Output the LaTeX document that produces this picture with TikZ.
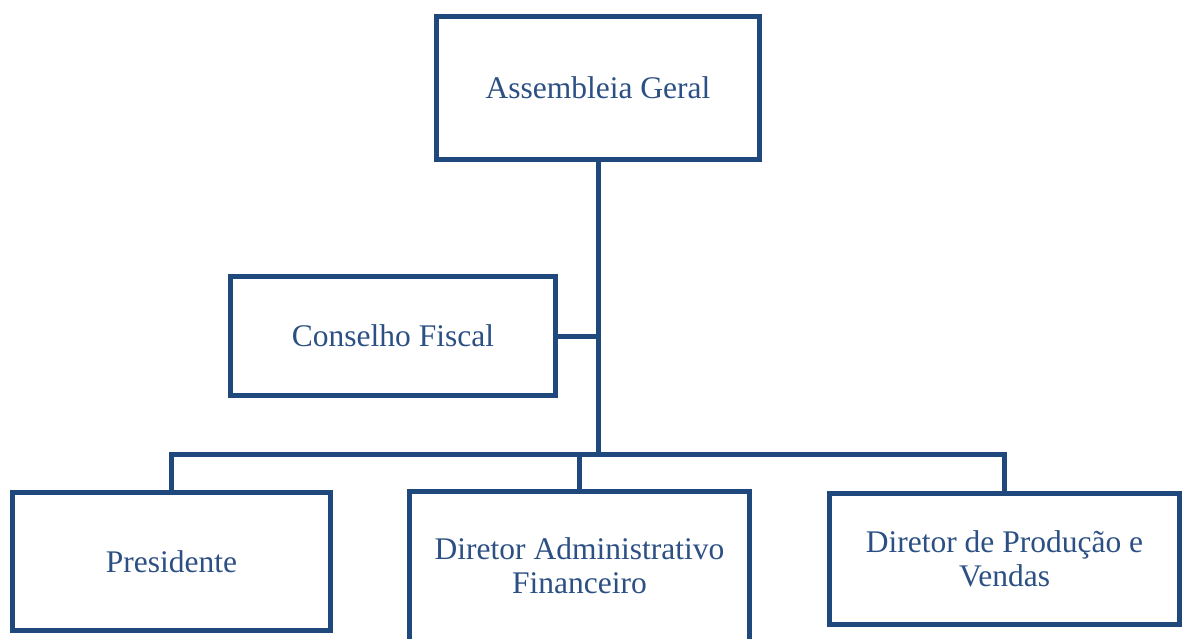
\documentclass[tikz,border=0pt]{standalone}
\usepackage{fontspec}
\setmainfont{Liberation Serif}
\usepackage{tikz}

\definecolor{boxblue}{RGB}{31,73,125}
\definecolor{textblue}{RGB}{44,80,132}

\begin{document}
\begin{tikzpicture}[x=1pt,y=-1pt,
        orgbox/.style={draw=boxblue,line width=5pt,fill=white,align=center,
            text=textblue,inner sep=0pt,
            font=\fontsize{31.5}{34}\selectfont},
        link/.style={draw=boxblue,line width=5pt}]

        \useasboundingbox (0,0) rectangle (1184,638);

        \node[orgbox,minimum width=323pt,minimum height=143pt] (ag) at (598,88) {Assembleia Geral};
        \node[orgbox,minimum width=325pt,minimum height=119pt] (cf) at (393,336) {Conselho Fiscal};

        \node[orgbox,minimum width=318pt,minimum height=138pt] (pres) at (171.5,561.5) {Presidente};
        \node[orgbox,minimum width=340pt,minimum height=150pt] (adm) at (579.5,566) {Diretor Administrativo\\Financeiro};
        \node[orgbox,minimum width=350pt,minimum height=131pt] (prod) at (1004.5,559) {Diretor de Produção e\\Vendas};

        \coordinate (bus) at (598,454);

        \draw[link] (ag.south) -- (bus);
        \draw[link] (cf.east) -- (cf.east -| ag.south);
        \draw[link] (pres.north) |- (bus) -| (prod.north);
        \draw[link] (adm.north) -- (adm.north |- bus);

    \end{tikzpicture}
\end{document}
